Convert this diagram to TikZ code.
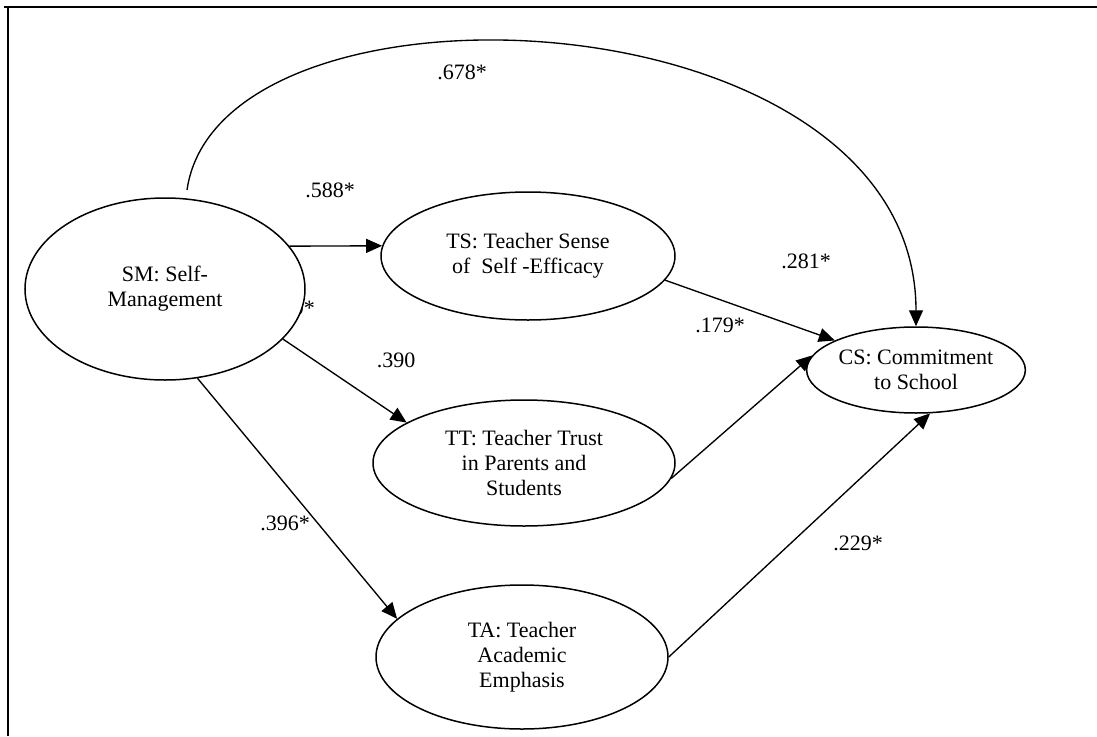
\documentclass[tikz,border=0pt]{standalone}
\usepackage{fontspec}
\setmainfont{Liberation Serif}
\usetikzlibrary{shapes.geometric,arrows.meta}

\tikzset{
  construct/.style={draw, ellipse, fill=white, line width=1.5pt, inner sep=0pt,
    align=center, font=\fontsize{22}{25}\selectfont},
  path/.style={line width=1.35pt, -{Triangle[length=16pt,width=14pt]}},
  coef/.style={font=\fontsize{22}{25}\selectfont, inner sep=0pt},
  frame/.style={line width=1.5pt}
}

\begin{document}
\begin{tikzpicture}[x=1pt,y=-1pt]
\useasboundingbox (0,0) rectangle (1097,736);

% open frame (top and left edges)
\draw[frame] (4,7) -- (1097,7);
\draw[frame] (8,7) -- (8,736);

% coefficient partly hidden behind the self-management construct
\node[coef, anchor=east] (lhid) at (315,308) {9*};

% constructs
\node[construct, minimum width=280pt, minimum height=182pt] (SM) at (165,289) {SM: Self-\\Management};
\node[construct, minimum width=294pt, minimum height=128pt] (TS) at (528,256) {TS: Teacher Sense\\of\ \ Self -Efficacy};
\node[construct, minimum width=302pt, minimum height=126pt] (TT) at (524,463) {TT: Teacher Trust\\in Parents and\\Students};
\node[construct, minimum width=292pt, minimum height=144pt] (TA) at (522,657) {TA: Teacher\\Academic\\Emphasis};
\node[construct, minimum width=218pt, minimum height=86pt] (CS) at (916,370) {CS: Commitment\\to School};

% direct effect arc
\coordinate (arcstart) at (187,190);
\draw[path] (arcstart) .. controls (220,-40) and (916,-10) .. (CS.north);

% paths from self-management
\draw[path] (SM.19) -- (TS.176);
\draw[path] (SM.-23.4) -- (TT.161);
\draw[path] (SM.-70.2) -- (TA.163.5);

% paths into commitment
\draw[path] (TS.-10) -- (CS.160);
\draw[path] (TT.-6.5) -- (CS.172);
\draw[path] (TA.east) -- (CS.-72);

% path coefficients
\node[coef] (l678) at (462,72) {.678*};
\node[coef] (l588) at (330,190) {.588*};
\node[coef] (l390) at (396,360) {.390};
\node[coef] (l281) at (806,261) {.281*};
\node[coef] (l179) at (720,325) {.179*};
\node[coef] (l229) at (858,543) {.229*};
\node[coef] (l396) at (285,523) {.396*};
\end{tikzpicture}
\end{document}
